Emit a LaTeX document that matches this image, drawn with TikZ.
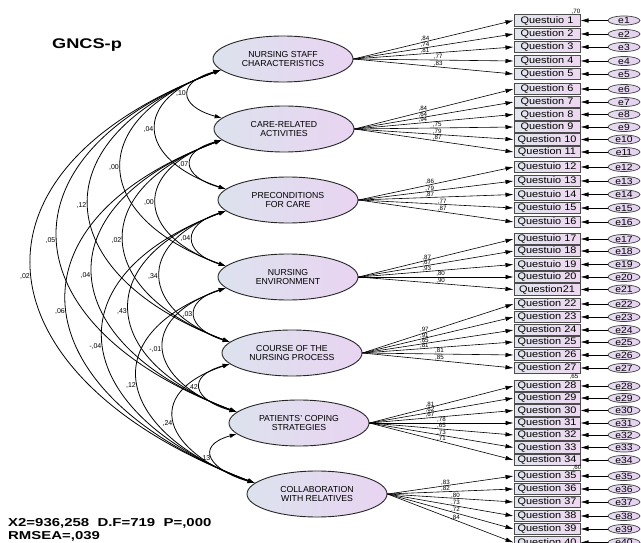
\documentclass[tikz,border=0pt]{standalone}
\usepackage{fontspec}
\setmainfont{Liberation Sans}
\setsansfont{Liberation Sans}
\newfontfamily\qfont{Liberation Sans}[FakeStretch=1.15]
\newfontfamily\statfont{Liberation Sans}[FakeStretch=1.3]
\usetikzlibrary{shapes.geometric,arrows.meta,calc}
\definecolor{lvL}{HTML}{DCE2EE}
\definecolor{lvR}{HTML}{E9D4F1}
\definecolor{obL}{HTML}{E3E6EE}
\definecolor{obR}{HTML}{EDD8F0}
\definecolor{erL}{HTML}{E6DDF0}
\definecolor{erR}{HTML}{E5D0F0}
\tikzset{
  latent/.style={ellipse, draw=black!85, line width=0.9pt, left color=lvL, right color=lvR,
    minimum width=140pt, minimum height=46pt, inner sep=0pt, align=center,
    font=\fontsize{8.7}{9.7}\selectfont},
  obs/.style={rectangle, draw=black!70, line width=1pt, left color=obL, right color=obR,
    minimum width=66pt, minimum height=11.5pt, inner sep=0pt,
    font=\qfont\fontsize{9.5}{10}\selectfont},
  err/.style={ellipse, draw=black!75, line width=0.7pt, left color=erL, right color=erR,
    minimum width=32pt, minimum height=9pt, inner sep=0pt,
    font=\qfont\fontsize{9}{9}\selectfont},
  load/.style={>={Latex[length=8pt,width=4.5pt]}, ->, line width=0.6pt},
  cov/.style={>={Latex[length=7pt,width=4.5pt]}, <->, line width=0.8pt},
  lbl/.style={font=\fontsize{6.2}{6.5}\selectfont, inner sep=0pt, anchor=south},
  clbl/.style={font=\fontsize{7}{8}\selectfont, inner sep=2pt, anchor=east},
  stat/.style={font=\statfont\bfseries\fontsize{11.5}{13}\selectfont, inner sep=0pt, anchor=west}
}
\newcommand\covarc[3]{%
  \pgfmathsetmacro\covc{46*(#2-#1)-2}%
  \draw[cov] let \p1=(f#1.190), \p2=(f#2.170), \n1={0.25*(\y1-\y2)} in
    (\p1) .. controls ({\x1-\covc pt},{\y1-\n1}) and ({\x2-\covc pt},{\y2+\n1}) .. (\p2)
    node[clbl,pos=0.5]{#3};}
\begin{document}
\begin{tikzpicture}[x=1pt,y=-1pt]
\useasboundingbox (0,0) rectangle (641,543);
\clip (0,0) rectangle (641,543);

% title
\node[font=\statfont\bfseries\fontsize{14}{16}\selectfont] (title) at (87,45) {GNCS-p};

% latent factors
\node[latent] (f1) at (283,59)  {NURSING STAFF\\CHARACTERISTICS};
\node[latent] (f2) at (284,129) {CARE-RELATED\\ACTIVITIES};
\node[latent] (f3) at (288,200) {PRECONDITIONS\\FOR CARE};
\node[latent] (f4) at (288,277) {NURSING\\ENVIRONMENT};
\node[latent] (f5) at (292,353) {COURSE OF THE\\NURSING PROCESS};
\node[latent] (f6) at (299,423) {PATIENTS' COPING\\STRATEGIES};
\node[latent] (f7) at (317,494) {COLLABORATION\\WITH RELATIVES};

% observed items and errors
\foreach \i/\yy/\t in {
  1/20.5/Questuio 1, 2/34/Question 2, 3/47/Question 3, 4/61/Question 4, 5/74/Question 5,
  6/89/Question 6, 7/102/Question 7, 8/114.5/Question 8, 9/127/Question 9, 10/139.5/Question 10, 11/152/Question 11,
  12/167/Questuio 12, 13/181/Questuio 13, 14/194.5/Questuio 14, 15/208/Questuio 15, 16/222/Questuio 16,
  17/239/Questuio 17, 18/251/Questuio 18, 19/264.5/Questuio 19, 20/277/Questuio 20, 21/289.5/Question21,
  22/304/Question 22, 23/317/Question 23, 24/330/Question 24, 25/342/Question 25, 26/355/Question 26, 27/368/Question 27,
  28/386/Question 28, 29/398/Question 29, 30/410.5/Question 30, 31/423/Question 31, 32/435/Question 32, 33/447.5/Question 33, 34/460/Question 34,
  35/476/Question 35, 36/489/Question 36, 37/502/Question 37, 38/516/Question 38, 39/529/Question 39, 40/542.5/Question 40}
{
  \node[obs] (q\i) at (547,\yy) {\t};
  \node[err] (e\i) at (624,\yy) {e\i};
  \draw[load] (e\i) -- (q\i);
}

% small R2 values readable in the figure
\node[lbl] (r1) at (576,14) {,70};
\node[lbl] (r27) at (574,379) {,65};
\node[lbl] (r34) at (577,470) {,60};

% loadings
\foreach \f/\q/\v/\p in {
  1/1/84/0.447, 1/2/74/0.447, 1/3/81/0.447, 1/4/77/0.53, 1/5/83/0.53,
  2/6/84/0.43, 2/7/64/0.43, 2/8/94/0.43, 2/9/75/0.52, 2/10/79/0.52, 2/11/87/0.52,
  3/12/86/0.46, 3/13/79/0.46, 3/14/87/0.46, 3/15/77/0.54, 3/16/87/0.54,
  4/17/87/0.44, 4/18/67/0.44, 4/19/93/0.44, 4/20/80/0.53, 4/21/90/0.53,
  5/22/97/0.41, 5/23/91/0.41, 5/24/65/0.41, 5/25/81/0.41, 5/26/81/0.51, 5/27/85/0.51,
  6/28/81/0.42, 6/29/62/0.42, 6/30/67/0.42, 6/31/78/0.50, 6/32/65/0.50, 6/33/73/0.50, 6/34/71/0.50,
  7/35/83/0.46, 7/36/82/0.46, 7/37/80/0.54, 7/38/73/0.54, 7/39/72/0.54, 7/40/84/0.54}
{
  \draw[load] (f\f.east) -- (q\q.west) node[lbl,pos=\p] {,\v};
}

% covariances
\covarc{1}{2}{,10}
\covarc{1}{3}{,04}
\covarc{1}{4}{,00}
\covarc{1}{5}{,12}
\covarc{1}{6}{,05}
\covarc{1}{7}{,02}
\covarc{2}{3}{,07}
\covarc{2}{4}{,00}
\covarc{2}{5}{,02}
\covarc{2}{6}{,04}
\covarc{2}{7}{,06}
\covarc{3}{4}{,04}
\covarc{3}{5}{,34}
\covarc{3}{6}{,43}
\covarc{3}{7}{-,04}
\covarc{4}{5}{,03}
\covarc{4}{6}{-,01}
\covarc{4}{7}{,12}
\covarc{5}{6}{,42}
\covarc{5}{7}{,24}
\covarc{6}{7}{,13}

% fit statistics
\node[stat] (st1) at (8,523) {X2=936,258\ \ D.F=719\ \ P=,000};
\node[stat] (st2) at (8,536) {RMSEA=,039};
\end{tikzpicture}
\end{document}
